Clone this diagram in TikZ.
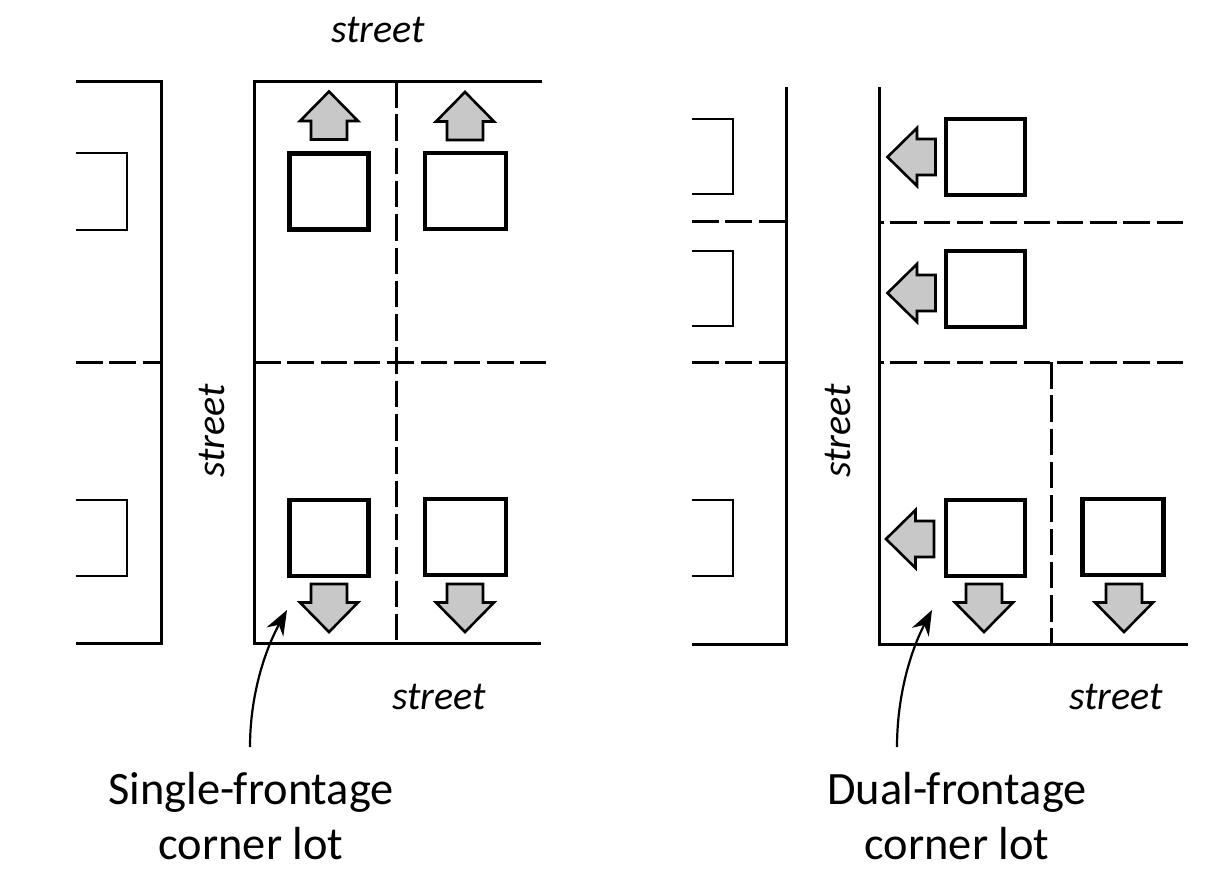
\documentclass[tikz,border=0pt]{standalone}
\usepackage{fontspec}
\setmainfont{Carlito}
\usepackage{xcolor}
\usetikzlibrary{arrows.meta,positioning}
\definecolor{frontgray}{HTML}{C8C8C8}

\begin{document}
\begin{tikzpicture}[
  x=1pt, y=-1pt,
  lot/.style={line width=3pt},
  lotdash/.style={line width=3pt, dash pattern=on 26.5pt off 6.8pt},
  cutoff/.style={line width=2.7pt},
  house/.style={draw, line width=4.4pt, minimum width=79pt, minimum height=76pt, inner sep=0pt, fill=white},
  housewide/.style={house, minimum width=81pt},
  front/.pic={
    \draw[line width=2.6pt, fill=frontgray, line join=miter]
      (0,-24) -- (29,5.5) -- (18,5.5) -- (18,24) -- (-18,24) -- (-18,5.5) -- (-29,5.5) -- cycle;
  },
  note/.style={font=\fontsize{46.4}{55}\selectfont, align=center, inner sep=0pt},
  streetname/.style={font=\fontsize{40}{44}\selectfont\itshape, inner sep=0pt},
  pointer/.style={line width=2.2pt, -{Stealth[length=25pt, width=19pt]}}
]
  \useasboundingbox (0,0) rectangle (1225,881);

  % Left picture: neighbouring block
  \draw[lot] (76,81) -- (161,81) -- (161,643) -- (76,643);
  \draw[lotdash] (76,362) -- (161,362);
  \draw[cutoff] (76,153) -- (127,153) -- (127,230) -- (76,230);
  \draw[cutoff] (76,500) -- (127,500) -- (127,576) -- (76,576);

  % Left picture: corner block
  \draw[lot] (542,81) -- (254,81) -- (254,643) -- (541,643);
  \draw[lotdash] (396,81) -- (396,643);
  \draw[lotdash] (254,362) -- (546,362);

  % Left picture: houses
  \node[house] (h1) at (329,191.5) {};
  \node[housewide] (h2) at (465.5,191) {};
  \node[house] (h3) at (329,538) {};
  \node[housewide] (h4) at (465.5,537) {};

  % Left picture: frontage arrows
  \pic (a1) at (329,115.5) {front};
  \pic (a2) at (465,116) {front};
  \pic[rotate=180] (a3) at (329,608) {front};
  \pic[rotate=180] (a4) at (465,608) {front};

  % Right picture: neighbouring block
  \draw[lot] (786,87) -- (786,644) -- (692,644);
  \draw[lotdash] (692,221) -- (786,221);
  \draw[lotdash] (692,362) -- (786,362);
  \draw[cutoff] (692,119) -- (733,119) -- (733,194) -- (692,194);
  \draw[cutoff] (692,251) -- (733,251) -- (733,326) -- (692,326);
  \draw[cutoff] (692,500) -- (733,500) -- (733,576) -- (692,576);

  % Right picture: corner block
  \draw[lot] (879,87) -- (879,644) -- (1188,644);
  \draw[lotdash, dash phase=22pt] (879,222) -- (1186,222);
  \draw[lotdash, dash phase=22pt] (879,362) -- (1186,362);
  \draw[lotdash] (1051,362) -- (1051,644);

  % Right picture: houses
  \node[house] (h5) at (985.5,157) {};
  \node[house] (h6) at (985.5,289) {};
  \node[house] (h7) at (985.5,538) {};
  \node[housewide] (h8) at (1123,537) {};

  % Right picture: frontage arrows
  \pic[rotate=90] (a5) at (911.5,157) {front};
  \pic[rotate=90] (a6) at (911.5,293) {front};
  \pic[rotate=90] (a7) at (910,539) {front};
  \pic[rotate=180] (a8) at (984,608) {front};
  \pic[rotate=180] (a9) at (1124,608) {front};

  % Street names
  \node[streetname] (s1) at (378,30) {street};
  \node[streetname, rotate=90] (s2) at (212,431) {street};
  \node[streetname] (s3) at (439,697) {street};
  \node[streetname, rotate=90] (s4) at (838,431) {street};
  \node[streetname] (s5) at (1116,697) {street};

  % Captions and pointers
  \node[note] (c1) at (251,816) {Single-frontage\\corner lot};
  \node[note] (c2) at (957,816) {Dual-frontage\\corner lot};
  \coordinate (p1) at (250,747);
  \coordinate (q1) at (287,610);
  \coordinate (p2) at (897,747);
  \coordinate (q2) at (932,610);
  \draw[pointer] (p1) .. controls (250,695) and (265,650) .. (q1);
  \draw[pointer] (p2) .. controls (897,695) and (911,650) .. (q2);
\end{tikzpicture}
\end{document}
